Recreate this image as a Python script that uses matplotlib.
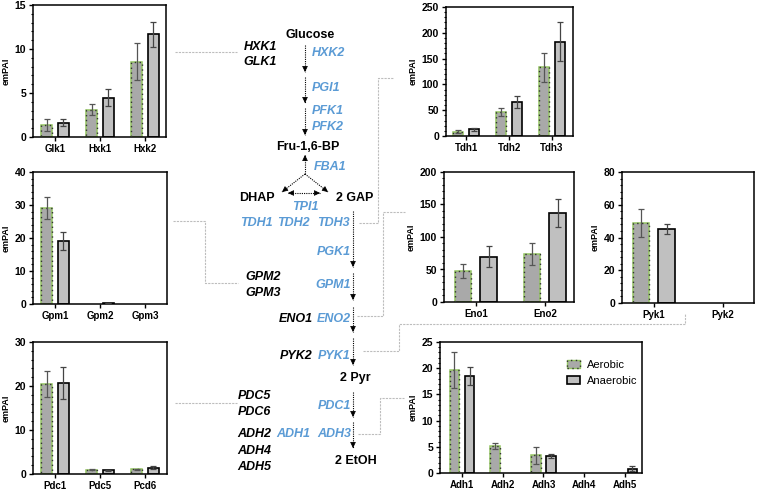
import matplotlib
matplotlib.use("Agg")
import matplotlib.pyplot as plt
from matplotlib.patches import Patch
from matplotlib.legend_handler import HandlerTuple
from matplotlib.ticker import MultipleLocator, AutoMinorLocator
import numpy as np

plt.rcParams["font.family"] = ["Liberation Sans", "DejaVu Sans"]
plt.rcParams["font.weight"] = "bold"

# ---- panel data (emPAI, mean and error) ----
glk_genes = ["Glk1", "Hxk1", "Hxk2"]
glk_aer = [1.4, 3.1, 8.55]
glk_aer_err = [0.7, 0.6, 2.1]
glk_ana = [1.6, 4.45, 11.65]
glk_ana_err = [0.4, 0.95, 1.45]

tdh_genes = ["Tdh1", "Tdh2", "Tdh3"]
tdh_aer = [8, 47, 133]
tdh_aer_err = [3, 8, 28]
tdh_ana = [13, 66, 183]
tdh_ana_err = [3, 12, 37]

gpm_genes = ["Gpm1", "Gpm2", "Gpm3"]
gpm_aer = [29.1, 0, 0]
gpm_aer_err = [3.4, 0, 0]
gpm_ana = [19.1, 0.3, 0]
gpm_ana_err = [2.7, 0.1, 0]

eno_genes = ["Eno1", "Eno2"]
eno_aer = [47.5, 73.8]
eno_aer_err = [10.5, 17]
eno_ana = [69.7, 137]
eno_ana_err = [16.4, 21]

pyk_genes = ["Pyk1", "Pyk2"]
pyk_aer = [49, 0]
pyk_aer_err = [8.6, 0]
pyk_ana = [45.4, 0]
pyk_ana_err = [3, 0]

pdc_genes = ["Pdc1", "Pdc5", "Pcd6"]
pdc_aer = [20.4, 1.0, 1.05]
pdc_aer_err = [3, 0.2, 0.15]
pdc_ana = [20.7, 0.85, 1.45]
pdc_ana_err = [3.6, 0.1, 0.35]

adh_genes = ["Adh1", "Adh2", "Adh3", "Adh4", "Adh5"]
adh_aer = [19.7, 5.15, 3.4, 0, 0]
adh_aer_err = [3.4, 0.55, 1.6, 0, 0]
adh_ana = [18.5, 0, 3.2, 0, 0.8]
adh_ana_err = [1.7, 0, 0.4, 0, 0.45]

W, H = 759, 490
AER_FACE = "#a9a9a9"
ANA_FACE = "#c0c0c0"
GREEN = "#93c462"
BLUE = "#5b9bd5"
CONN = "#bdbdbd"

fig = plt.figure(figsize=(W / 100, H / 100), dpi=100)

# overlay in pixel coordinates for the pathway
ov = fig.add_axes([0, 0, 1, 1])
ov.set_xlim(0, W)
ov.set_ylim(H, 0)
ov.axis("off")


def px_axes(x0, y0, x1, y1):
    return fig.add_axes([x0 / W, 1 - y1 / H, (x1 - x0) / W, (y1 - y0) / H])


def bar_panel(rect, genes, aer, aer_err, ana, ana_err, ymax, major, xlim):
    ax = px_axes(*rect)
    x = np.arange(len(genes))
    off, w = 0.185, 0.24
    for xi, v, e in zip(x - off, aer, aer_err):
        if v <= 0:
            continue
        ax.bar(xi, v, w, color=AER_FACE, edgecolor=GREEN, linewidth=1.1, zorder=2)
        ax.bar(xi, v, w, fill=False, edgecolor="#333333", linewidth=1.0,
               linestyle=(0, (1, 2.5)), zorder=3)
        ax.errorbar(xi, v, yerr=e, color="#555555", capsize=2.5, elinewidth=0.9,
                    capthick=0.9, zorder=4)
    for xi, v, e in zip(x + off, ana, ana_err):
        if v <= 0:
            continue
        ax.bar(xi, v, w, color=ANA_FACE, edgecolor="black", linewidth=1.2, zorder=2)
        ax.errorbar(xi, v, yerr=e, color="#444444", capsize=2.5, elinewidth=0.9,
                    capthick=0.9, zorder=4)
    ax.set_xlim(*xlim)
    ax.set_ylim(0, ymax)
    ax.set_xticks(x)
    ax.set_xticklabels(genes)
    ax.yaxis.set_major_locator(MultipleLocator(major))
    ax.yaxis.set_minor_locator(AutoMinorLocator(5))
    ax.tick_params(axis="x", labelsize=7)
    ax.tick_params(axis="y", labelsize=7.5)
    ax.tick_params(axis="both", which="major", direction="out", length=3, width=1, pad=2)
    ax.tick_params(axis="y", which="minor", direction="out", length=1.5, width=0.8)
    ax.set_ylabel("emPAI", fontsize=6.5, fontweight="bold", labelpad=3)
    for s in ax.spines.values():
        s.set_linewidth(1.1)
    return ax


bar_panel((33, 5, 166, 137), glk_genes, glk_aer, glk_aer_err, glk_ana, glk_ana_err,
          15, 5, (-0.49, 2.47))
bar_panel((446, 7, 573, 136), tdh_genes, tdh_aer, tdh_aer_err, tdh_ana, tdh_ana_err,
          250, 50, (-0.47, 2.49))
bar_panel((33, 172, 167, 304), gpm_genes, gpm_aer, gpm_aer_err, gpm_ana, gpm_ana_err,
          40, 10, (-0.49, 2.49))
bar_panel((444, 172, 574, 302), eno_genes, eno_aer, eno_aer_err, eno_ana, eno_ana_err,
          200, 50, (-0.46, 1.42))
bar_panel((622, 172, 754, 303), pyk_genes, pyk_aer, pyk_aer_err, pyk_ana, pyk_ana_err,
          80, 20, (-0.46, 1.45))
bar_panel((33, 342, 167, 474), pdc_genes, pdc_aer, pdc_aer_err, pdc_ana, pdc_ana_err,
          30, 10, (-0.49, 2.49))
ax_adh = bar_panel((440, 342, 642, 473), adh_genes, adh_aer, adh_aer_err, adh_ana,
                   adh_ana_err, 25, 5, (-0.54, 4.42))

h_aer = (Patch(facecolor=AER_FACE, edgecolor=GREEN, linewidth=1.0),
         Patch(fill=False, edgecolor="#333333", linewidth=1.0, linestyle=(0, (1, 2.5))))
h_ana = Patch(facecolor=ANA_FACE, edgecolor="black", linewidth=1.2)
ax_adh.legend([h_aer, h_ana], ["Aerobic", "Anaerobic"],
              handler_map={tuple: HandlerTuple(ndivide=1, pad=0)},
              loc="upper left", bbox_to_anchor=(0.58, 0.94), frameon=False,
              prop={"size": 8, "weight": "normal"}, handlelength=1.2,
              handleheight=0.7, labelspacing=0.55, handletextpad=0.6)

# ---- pathway text ----
metabolites = [("Glucose", 310, 35), ("Fru-1,6-BP", 308, 147), ("DHAP", 257, 198),
               ("2 GAP", 355, 198), ("2 Pyr", 355, 378), ("2 EtOH", 356, 461)]
for t, x, y in metabolites:
    ov.text(x, y, t, ha="center", va="center", fontsize=9, fontweight="bold")

black_genes = [("HXK1", 260, 47), ("GLK1", 260, 62), ("GPM2", 263, 277),
               ("GPM3", 263, 293), ("ENO1", 296, 319), ("PYK2", 296, 356),
               ("PDC5", 254, 396), ("PDC6", 254, 412), ("ADH2", 254, 434),
               ("ADH4", 254, 451), ("ADH5", 254, 467)]
for t, x, y in black_genes:
    ov.text(x, y, t, ha="center", va="center", fontsize=9, fontweight="bold",
            style="italic")

blue_genes = [("HXK2", 312, 53, "left"), ("PGI1", 312, 88, "left"),
              ("PFK1", 312, 111, "left"), ("PFK2", 312, 127, "left"),
              ("FBA1", 314, 167, "left"), ("TPI1", 305, 207, "center"),
              ("TDH1", 256, 223, "center"), ("TDH2", 293, 223, "center"),
              ("TDH3", 333, 223, "center"), ("PGK1", 351, 252, "right"),
              ("GPM1", 351, 285, "right"), ("ENO2", 351, 319, "right"),
              ("PYK1", 351, 356, "right"), ("PDC1", 351, 406, "right"),
              ("ADH1", 293, 434, "center"), ("ADH3", 351, 434, "right")]
for t, x, y, ha in blue_genes:
    ov.text(x, y, t, ha=ha, va="center", fontsize=9, fontweight="bold",
            style="italic", color=BLUE)


# ---- arrows ----
def head(x0, y0, x1, y1):
    d = np.hypot(x1 - x0, y1 - y0)
    sx, sy = x1 - (x1 - x0) / d * 5, y1 - (y1 - y0) / d * 5
    ov.annotate("", xy=(x1, y1), xytext=(sx, sy),
                arrowprops=dict(arrowstyle="-|>,head_length=0.35,head_width=0.17",
                                color="black", lw=0.5, shrinkA=0, shrinkB=0,
                                mutation_scale=10))


def arrow(x0, y0, x1, y1, both=False):
    ov.plot([x0, x1], [y0, y1], color="black", lw=0.8, ls=(0, (1, 1)))
    head(x0, y0, x1, y1)
    if both:
        head(x1, y1, x0, y0)


for y0, y1 in [(45, 72), (77, 103), (108, 135)]:
    arrow(305, y0, 305, y1)
arrow(305, 174, 305, 155)
arrow(305, 174, 282, 192)
arrow(305, 174, 328, 192)
arrow(288, 193, 320, 193, both=True)
for y0, y1 in [(211, 267), (273, 300), (307, 332), (338, 365), (392, 417), (422, 448)]:
    arrow(353, y0, 353, y1)

# ---- connectors ----
connectors = [
    [(175, 52), (237, 52)],
    [(359, 223), (378, 223), (378, 78), (393, 78)],
    [(173, 221), (205, 221), (205, 283), (238, 283)],
    [(357, 316), (383, 316), (383, 212), (405, 212)],
    [(363, 351), (399, 351), (399, 324), (685, 324), (685, 313)],
    [(175, 403), (237, 403)],
    [(358, 434), (380, 434), (380, 398), (404, 398)],
]
for pts in connectors:
    xs, ys = zip(*pts)
    ov.plot(xs, ys, color=CONN, lw=0.8, ls=(0, (2, 1)))

fig.savefig("out.png", dpi=100)
